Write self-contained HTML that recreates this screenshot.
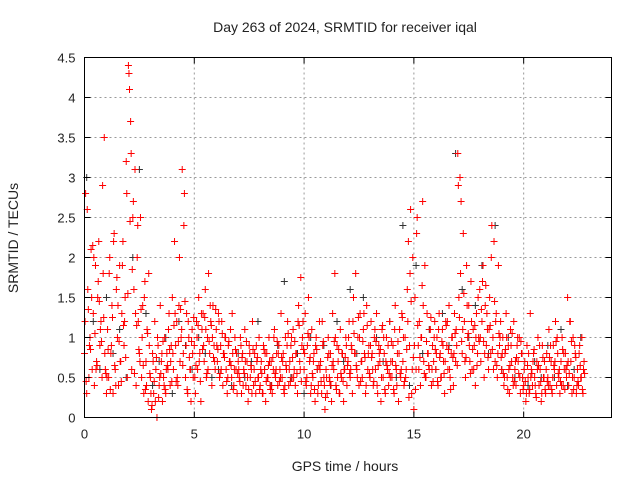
<!DOCTYPE html>
<html><head><meta charset="utf-8"><style>
html,body{margin:0;padding:0;background:#fff;}
svg{display:block;font-family:"Liberation Sans",sans-serif;}
</style></head><body>
<svg id="chart" width="640" height="480" viewBox="0 0 640 480" xmlns="http://www.w3.org/2000/svg">
<rect width="640" height="480" fill="#fff"/>
<text x="345" y="32" font-size="14" text-anchor="middle" fill="#222">Day 263 of 2024, SRMTID for receiver iqal</text>
<text transform="translate(18,238) rotate(-90)" font-size="14" text-anchor="middle" fill="#222">SRMTID / TECUs</text>
<text x="345" y="471" font-size="14" text-anchor="middle" fill="#222">GPS time / hours</text>
<g id="grid"></g>
<g id="marks"></g>
<rect x="84.5" y="57.5" width="527" height="360" fill="none" stroke="#000" stroke-width="1"/>
<g id="ticks"></g>
</svg>
<script>
const xTicks = [0,5,10,15,20];
const yTicks = [0,0.5,1,1.5,2,2.5,3,3.5,4,4.5];
const yTickLabels = ["0","0.5","1","1.5","2","2.5","3","3.5","4","4.5"];
const redStart = 0.0, redStep = 0.05;
const redValues = [
0.8,2.8,0.3,1.6,0.5,1.0,2.1,0.6,1.3,0.4,1.9,0.7,1.5,2.2,0.9,1.2,0.5,1.8,3.5,0.6,
0.3,1.1,0.5,2.0,0.8,1.4,0.3,2.3,0.6,1.6,1.0,0.4,1.9,0.7,1.3,2.2,0.9,1.5,3.2,0.5,
4.4,4.1,3.7,0.6,2.5,1.6,3.1,0.4,2.0,1.2,0.8,2.5,0.5,1.4,0.3,1.7,0.7,1.1,0.2,0.9,
0.5,0.1,0.8,0.3,1.2,0.6,0.0,0.9,0.4,1.4,0.7,0.2,0.5,1.0,0.3,0.8,0.6,1.3,0.4,0.9,
1.5,0.6,2.2,0.9,1.2,0.4,1.4,0.7,1.0,3.1,0.8,2.8,0.5,1.3,0.3,1.0,0.6,0.2,1.1,0.5,
0.9,0.3,1.2,0.6,1.5,0.8,0.2,1.1,1.3,0.7,1.6,0.5,1.0,1.8,0.8,1.2,0.4,1.4,0.9,0.6,
1.1,0.7,1.3,0.5,0.9,1.2,0.4,0.8,1.0,0.6,0.3,0.9,0.7,1.1,0.5,0.8,0.4,1.0,0.6,0.3,
0.7,0.5,1.0,0.3,0.8,0.6,1.1,0.4,0.7,0.2,0.9,0.5,0.6,1.2,0.4,0.8,0.3,0.7,0.5,1.0,
0.4,0.7,0.3,0.9,0.6,0.2,0.8,0.5,1.0,0.4,0.7,0.3,0.6,1.1,0.5,0.8,0.4,0.9,0.6,1.3,
0.5,0.8,0.3,1.0,0.6,1.2,0.4,0.7,0.9,0.5,1.1,0.6,0.4,0.8,0.3,1.4,0.7,1.75,0.9,1.2,
0.6,1.3,0.4,0.9,1.5,0.7,0.3,1.1,0.5,0.8,0.2,1.0,0.6,0.4,1.2,0.7,0.3,0.9,0.5,0.1,
0.6,0.3,1.0,0.5,0.8,0.2,1.3,0.6,1.8,0.4,0.9,0.7,0.3,1.1,0.5,0.8,0.2,0.6,1.0,0.4,
0.7,1.2,0.5,0.9,0.3,1.5,0.8,1.8,0.6,1.0,0.4,1.3,0.7,0.5,1.1,0.8,0.3,1.4,0.6,0.9,
0.5,1.2,0.8,0.4,1.0,0.6,1.3,0.3,0.9,0.7,0.2,1.1,0.5,0.8,0.3,1.0,0.6,0.4,1.2,0.7,
0.5,0.9,0.3,1.4,0.6,0.8,0.2,1.1,0.5,1.3,0.7,0.4,1.0,0.6,1.6,2.2,0.9,2.6,0.3,2.0,
0.1,1.5,0.6,2.5,0.9,1.2,0.4,1.0,2.7,0.7,1.9,0.5,1.3,0.8,0.6,1.1,0.4,0.9,0.7,1.2,
0.6,1.0,0.4,1.3,0.8,0.5,1.1,0.7,0.3,1.2,0.9,0.6,1.4,0.5,0.8,1.0,0.4,1.3,0.7,0.9,
3.3,1.5,3.0,2.7,0.8,2.3,1.2,0.5,1.9,1.0,1.4,0.7,1.7,0.6,1.1,0.9,0.4,1.3,0.8,1.0,
1.6,0.7,1.2,1.9,0.5,1.4,0.9,1.1,0.6,1.5,0.8,2.4,1.0,2.2,0.7,1.3,0.5,1.9,0.9,1.2,
0.6,1.0,0.4,0.8,1.3,0.5,0.9,0.3,1.1,0.7,0.5,1.2,0.6,0.4,0.9,0.7,1.0,0.3,0.8,0.5,
0.4,0.7,0.2,0.9,0.5,0.3,1.3,0.6,0.4,0.8,0.5,0.3,0.7,1.0,0.4,0.6,0.2,0.9,0.5,0.7,
0.3,0.8,0.5,1.1,0.4,0.7,0.3,0.9,0.6,1.2,0.4,0.8,0.5,0.3,0.7,1.0,0.4,0.6,0.8,0.5,
1.5,0.4,1.2,0.7,0.3,1.0,0.5,0.8,0.3,0.6,0.4,0.9,0.5,1.0,0.3,0.7];
const red2Start = 0.025, red2Step = 0.1;
const red2Values = [
1.2,2.6,0.9,1.5,2.0,0.6,1.7,1.1,2.9,0.8,
0.5,1.8,0.9,2.2,0.4,1.4,0.7,1.9,1.2,2.8,
4.3,3.3,2.7,1.3,2.4,0.7,1.0,1.5,0.4,1.8,
0.3,0.7,0.2,1.0,0.5,0.8,0.4,0.6,1.1,0.7,
0.8,1.3,0.5,2.0,1.1,2.4,0.9,1.2,0.6,0.8,
0.5,1.0,0.7,1.3,0.9,1.1,0.6,1.4,1.0,0.7,
0.9,1.2,0.6,0.8,1.0,0.5,0.7,1.3,0.6,0.8,
0.6,0.9,0.4,0.7,0.5,0.8,0.3,0.6,0.9,0.5,
0.6,0.3,0.8,0.5,0.7,0.4,1.0,0.6,0.8,0.5,
0.7,0.4,0.9,0.6,1.0,0.5,0.8,1.2,0.6,1.0,
0.8,0.5,1.0,0.4,0.7,0.9,0.3,0.6,1.2,0.4,
0.5,0.8,0.4,0.7,1.0,0.5,0.3,0.8,0.6,0.9,
1.0,0.6,1.2,0.8,0.5,1.0,0.7,1.3,0.4,0.8,
0.9,0.6,1.1,0.4,0.8,0.5,1.0,0.7,0.9,0.5,
0.7,1.1,0.4,0.8,0.6,1.0,0.5,1.2,1.8,0.6,
0.9,2.3,0.6,1.0,1.4,0.5,0.8,1.1,0.6,1.0,
0.8,1.1,0.5,0.9,0.7,1.2,0.6,1.0,0.8,1.1,
2.9,1.8,1.1,0.7,1.4,0.9,1.2,0.6,1.0,1.5,
1.0,1.7,0.8,1.3,1.1,2.0,0.6,1.2,0.8,1.0,
0.8,0.5,1.0,0.6,0.9,0.4,0.7,1.0,0.5,0.8,
0.6,0.3,0.8,0.5,0.7,0.4,0.6,0.9,0.3,0.5,
0.6,0.4,0.9,0.5,0.7,1.0,0.6,0.4,0.8,0.6,
0.7,1.2,0.5,0.9,0.4,0.8,0.5,0.6];
const red3Start = 0.075, red3Step = 0.1;
const red3Values = [
0.45,1.35,0.85,2.15,1.05,0.65,1.45,0.95,1.25,0.55,
0.85,0.35,1.25,0.65,1.75,0.95,0.45,1.15,0.75,1.55,
2.45,1.85,0.55,1.15,0.85,1.35,0.65,0.35,1.05,0.55,
0.15,0.45,0.75,0.25,0.55,0.95,0.35,0.65,0.85,0.45,
1.15,0.45,0.95,1.35,0.65,1.45,0.35,0.75,0.95,1.25,
0.65,1.15,0.45,0.85,1.25,0.55,0.95,1.15,0.75,1.35,
0.85,0.55,1.05,0.75,0.45,0.95,0.65,0.35,0.85,0.55,
0.45,0.75,0.55,0.95,0.35,0.65,0.85,0.45,0.75,0.35,
0.55,0.85,0.45,0.65,0.35,0.75,0.55,0.95,0.45,0.75,
0.35,0.65,1.05,0.45,0.75,0.95,0.55,1.15,0.45,0.85,
0.45,1.05,0.75,0.55,0.35,0.85,0.65,0.45,0.95,0.25,
0.75,0.45,0.65,0.95,0.35,0.85,0.55,0.45,0.75,0.65,
0.55,0.85,1.05,0.65,1.25,0.45,0.95,0.75,1.15,0.55,
0.75,0.45,0.95,0.65,0.85,1.15,0.35,0.65,0.55,0.95,
0.35,0.65,0.95,0.55,1.25,0.45,0.85,0.25,1.45,0.75,
0.35,1.15,0.75,1.65,0.55,0.95,0.65,1.25,0.45,0.85,
0.45,0.75,0.95,0.55,1.15,0.85,0.35,0.75,1.05,0.65,
1.25,0.95,1.55,0.75,1.05,0.55,0.85,1.15,0.65,0.95,
1.35,0.95,1.65,0.75,1.15,0.85,1.45,0.65,1.05,0.75,
0.55,0.85,0.35,0.65,1.05,0.45,0.75,0.55,0.95,0.35,
0.45,0.65,0.35,0.55,0.85,0.25,0.65,0.45,0.75,0.35,
0.45,0.75,0.35,0.65,0.95,0.55,0.45,0.85,0.35,0.65,
0.55,0.95,0.35,0.75,0.45,0.65,0.35,0.55];
const blackStart = 0.1, blackStep = 0.3;
const blackValues = [
3.0,1.2,0.6,1.5,0.8,1.1,0.5,2.0,3.1,1.3,
0.4,0.7,1.0,0.3,1.2,0.9,0.6,1.0,0.8,0.5,
0.6,1.0,0.4,0.8,0.5,0.7,1.2,0.6,0.4,0.9,
1.7,0.5,0.8,0.3,1.0,0.6,0.9,0.4,1.2,0.7,
1.6,0.8,1.5,0.5,1.0,0.7,1.2,0.5,2.4,0.4,
1.9,0.8,1.1,0.6,1.3,0.9,3.3,1.6,1.0,1.4,
1.9,0.8,2.4,0.6,1.0,0.5,0.8,0.4,0.7,0.5,
0.9,0.5,1.1,0.4,0.6,1.0];

const L=84.5,R=611.5,T=57.5,B=417.5;
const xMax=24, yMax=4.5;
const xs = v => L + v/xMax*(R-L);
const ys = v => B - v/yMax*(B-T);
const NS='http://www.w3.org/2000/svg';
const grid=document.getElementById('grid'), ticks=document.getElementById('ticks'), marks=document.getElementById('marks');
function mk(tag,attrs,parent){const e=document.createElementNS(NS,tag);for(const k in attrs)e.setAttribute(k,attrs[k]);parent.appendChild(e);return e;}

xTicks.forEach(t=>{
  const x=xs(t);
  if(t>0){const g=mk('line',{x1:x,y1:T,x2:x,y2:B,stroke:'#999','stroke-dasharray':'2,3'},grid);
  
  }
  const a=mk('line',{x1:x,y1:B,x2:x,y2:B-6,stroke:'#000'},ticks);
  
  
  const b=mk('line',{x1:x,y1:T,x2:x,y2:T+6,stroke:'#000'},ticks);
  
  
  const tx=mk('text',{x:x,y:B+21,'font-size':13,'text-anchor':'middle',fill:'#222'},ticks);
  tx.textContent=String(t);
  
  
});
yTicks.forEach((t,i)=>{
  const y=ys(t);
  if(t>0&&t<yMax){const g=mk('line',{x1:L,y1:y,x2:R,y2:y,stroke:'#999','stroke-dasharray':'2,3'},grid);
  
  }
  const a=mk('line',{x1:L,y1:y,x2:L+6,y2:y,stroke:'#000'},ticks);
  
  
  const b=mk('line',{x1:R,y1:y,x2:R-6,y2:y,stroke:'#000'},ticks);
  
  
  const tx=mk('text',{x:L-9,y:y+5,'font-size':13,'text-anchor':'end',fill:'#222'},ticks);
  tx.textContent=yTickLabels[i];
  
  
});
function plus(x,y,color,name){
  const p=mk('path',{d:`M${x-3.5},${y}H${x+3.5}M${x},${y-3.5}V${y+3.5}`,stroke:color,'stroke-width':1,fill:'none'},marks);
  
  
}
blackValues.forEach((v,i)=>plus(xs(blackStart+i*blackStep),ys(v),'#333','gps-point'));
redValues.forEach((v,i)=>plus(xs(redStart+i*redStep),ys(v),'#f00','srmtid-point'));
red2Values.forEach((v,i)=>plus(xs(red2Start+i*red2Step),ys(v),'#f00','srmtid-point'));
red3Values.forEach((v,i)=>plus(xs(red3Start+i*red3Step),ys(v),'#f00','srmtid-point'));
</script>
</body></html>
